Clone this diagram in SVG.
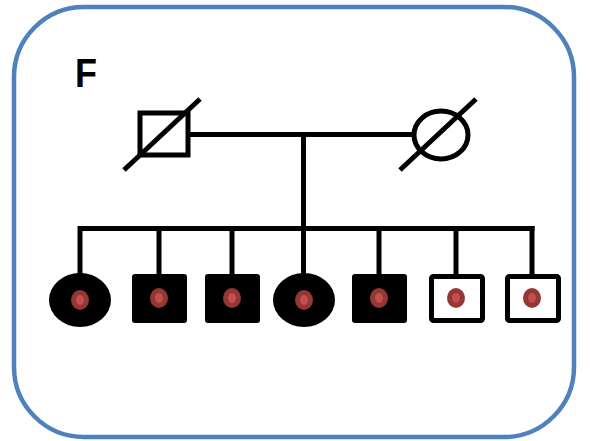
<svg xmlns="http://www.w3.org/2000/svg" width="590" height="441" viewBox="0 0 590 441">
  <style>
    .line { stroke: #000; stroke-width: 5; fill: none; }
    .open { fill: #fff; stroke: #000; stroke-width: 5; }
    .filled { fill: #000; }
    .dot-outer { fill: #953735; }
    .dot-inner { fill: #c0504d; }
    .label { font-family: "Liberation Sans", Arial, sans-serif; font-weight: bold; font-size: 40px; fill: #000; }
  </style>
  <defs>
    <g id="dot">
      <ellipse cx="0" cy="0" rx="9" ry="10" class="dot-outer"/>
      <ellipse cx="0" cy="0" rx="4" ry="5" class="dot-inner"/>
    </g>
  </defs>

  <!-- panel frame -->
  <rect x="14" y="7" width="560" height="430" rx="70" ry="70" fill="#fff" stroke="#4f81bd" stroke-width="4.5"/>

  <text class="label" x="75" y="87" transform="translate(75 87) scale(0.9 1) translate(-75 -87)">F</text>

  <!-- connectors -->
  <g id="connectors">
    <line class="line" x1="189" y1="134.5" x2="414" y2="134.5"/>
    <line class="line" x1="303.5" y1="134" x2="303.5" y2="230"/>
    <line class="line" x1="78" y1="228.5" x2="534.5" y2="228.5"/>
    <line class="line" x1="80" y1="226" x2="80" y2="274"/>
    <line class="line" x1="159" y1="226" x2="159" y2="275"/>
    <line class="line" x1="232" y1="226" x2="232" y2="275"/>
    <line class="line" x1="303.5" y1="226" x2="303.5" y2="274"/>
    <line class="line" x1="379" y1="226" x2="379" y2="275"/>
    <line class="line" x1="456" y1="226" x2="456" y2="276"/>
    <line class="line" x1="532" y1="226" x2="532" y2="276"/>
  </g>

  <!-- parents -->
  <g id="father">
    <rect class="open" x="140" y="113" width="48" height="42"/>
    <line class="line" x1="124" y1="170" x2="200" y2="99"/>
  </g>
  <g id="mother">
    <ellipse class="open" cx="441" cy="135" rx="27" ry="24"/>
    <line class="line" x1="400" y1="170" x2="476" y2="99"/>
  </g>

  <!-- offspring -->
  <g id="child1">
    <ellipse class="filled" cx="80" cy="300" rx="31" ry="27"/>
    <use href="#dot" x="80" y="300"/>
  </g>
  <g id="child2">
    <rect class="filled" x="132" y="274" width="55" height="49" rx="3"/>
    <use href="#dot" x="159" y="298"/>
  </g>
  <g id="child3">
    <rect class="filled" x="205" y="274" width="55" height="49" rx="3"/>
    <use href="#dot" x="232" y="298"/>
  </g>
  <g id="child4">
    <ellipse class="filled" cx="304" cy="300" rx="31" ry="27"/>
    <use href="#dot" x="304" y="300"/>
  </g>
  <g id="child5">
    <rect class="filled" x="352" y="274" width="55" height="49" rx="3"/>
    <use href="#dot" x="379" y="298"/>
  </g>
  <g id="child6">
    <rect class="open" x="431.5" y="276.5" width="51" height="44" rx="2"/>
    <use href="#dot" x="456" y="298"/>
  </g>
  <g id="child7">
    <rect class="open" x="507.5" y="276.5" width="51" height="44" rx="2"/>
    <use href="#dot" x="532" y="298"/>
  </g>
</svg>
